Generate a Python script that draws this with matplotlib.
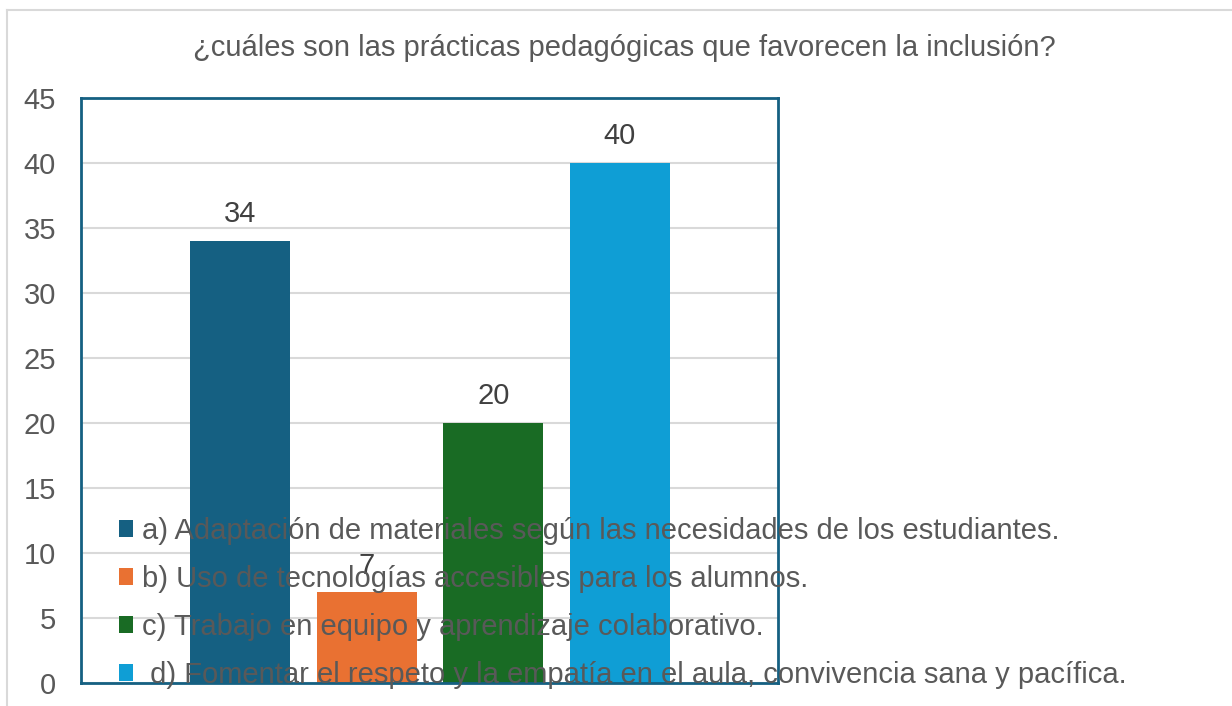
import matplotlib.pyplot as plt
from matplotlib.patches import Patch
from matplotlib.lines import Line2D

plt.rcParams['font.family'] = ['Liberation Sans', 'DejaVu Sans']

title = "¿cuáles son las prácticas pedagógicas que favorecen la inclusión?"
labels = [
    "a) Adaptación de materiales según las necesidades de los estudiantes.",
    "b) Uso de tecnologías accesibles para los alumnos.",
    "c) Trabajo en equipo y aprendizaje colaborativo.",
    " d) Fomentar el respeto y la empatía en el aula, convivencia sana y pacífica.",
]
values = [34, 7, 20, 40]
colors = ["#156082", "#E97132", "#196B24", "#0F9ED5"]
yticks = [0, 5, 10, 15, 20, 25, 30, 35, 40, 45]

W, H = 1232, 706
fig = plt.figure(figsize=(W / 100, H / 100), dpi=100)
ax = fig.add_axes([81 / W, 1 - 683 / H, (778 - 81) / W, (683 - 98) / H])

pos = list(range(len(values)))
bars = ax.bar(pos, values, width=0.79, color=colors, zorder=2)
for b, v in zip(bars, values):
    ax.annotate(str(v), (b.get_x() + b.get_width() / 2, v), xytext=(0, 9),
                textcoords="offset points", ha="center", va="bottom",
                fontsize=21, color="#404040", zorder=3)

ax.set_xlim(-1.255, 3 + 1.248)
ax.set_ylim(0, 45)
ax.set_yticks(yticks)
ax.set_xticks([])
ax.tick_params(axis="y", length=0, pad=18, labelsize=21, labelcolor="#595959")
ax.yaxis.grid(True, color="#d9d9d9", linewidth=1.5, zorder=0)
ax.set_axisbelow(True)
for s in ax.spines.values():
    s.set_color("#156082")
    s.set_linewidth(2)

fig.text(624 / W, 1 - 48 / H, title, ha="center", va="center",
         fontsize=21, color="#595959")

handles = [Patch(facecolor=c, edgecolor="none") for c in colors]
leg = fig.legend(handles, labels, loc="upper left",
                 bbox_to_anchor=(104 / W, 1 - 502 / H), frameon=False,
                 fontsize=21, labelcolor="#595959", handlelength=0.5,
                 handleheight=0.5, handletextpad=0.3, labelspacing=0.69,
                 borderpad=0)
leg.set_zorder(5)

# outer chart frame
fig.add_artist(Line2D([6.5 / W, 6.5 / W], [0, 1 - 10 / H], color="#d9d9d9",
                      linewidth=1.5, transform=fig.transFigure))
fig.add_artist(Line2D([6.5 / W, 1], [1 - 10 / H, 1 - 10 / H], color="#d9d9d9",
                      linewidth=1.5, transform=fig.transFigure))

fig.savefig("out.png", dpi=100)
